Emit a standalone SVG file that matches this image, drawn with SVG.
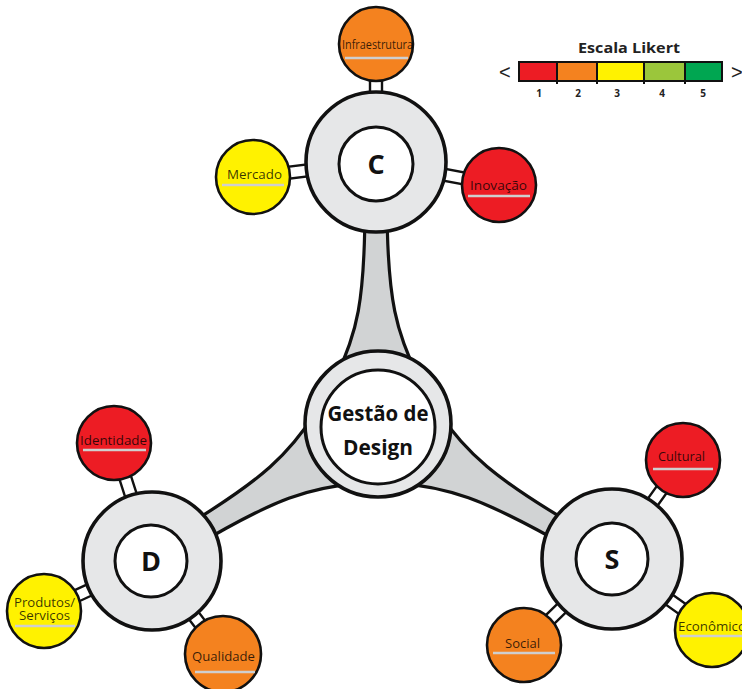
<svg xmlns="http://www.w3.org/2000/svg" width="742" height="689" viewBox="0 0 742 689">
  <style>
    .spoke { fill: #d1d3d4; stroke: #111; stroke-width: 3.2; stroke-linejoin: round; }
    .bar { fill: #fff; stroke: #111; stroke-width: 2.4; }
    .ring { fill: #e6e7e8; stroke: #111; stroke-width: 3.6; }
    .core { fill: #fff; stroke: #111; stroke-width: 3; }
    .sat { stroke: #111; stroke-width: 2.6; }
    .red { fill: #ed1c24; }
    .orange { fill: #f4821f; }
    .yellow { fill: #fff200; }
    .lgreen { fill: #9bc63b; }
    .green { fill: #00a651; }
    .hubtxt { font-family: "Open Sans", "Noto Sans", sans-serif; font-weight: bold; font-size: 27px; fill: #111; text-anchor: middle; }
    .maintxt { font-family: "Open Sans", "Noto Sans", sans-serif; font-weight: bold; font-size: 21px; fill: #111; text-anchor: middle; }
    .lbl { font-family: "Open Sans", "Noto Sans", sans-serif; font-size: 13px; fill: #000; fill-opacity: 0.78; }
    .uline { stroke: #cfcfcf; stroke-width: 2.6; }
    .scale { font-family: "Open Sans", "Noto Sans", sans-serif; font-weight: bold; fill: #222; text-anchor: middle; }
    .chev { font-family: "Liberation Sans", sans-serif; font-size: 20px; fill: #222; }
    .seg { stroke: #111; stroke-width: 2; }
  </style>

  <!-- connectors: tapered spokes from the core and short bars to the satellites -->
  <g id="connectors">
    <path class="spoke" transform="translate(377,424) rotate(0)"
          d="M -12,-222 L 10,-222 C 10,-122 20,-90 42,-45 L -42,-45 C -20,-90 -12,-122 -12,-222 Z"/>
    <path class="spoke" transform="translate(377,424) rotate(-121)"
          d="M -11,-224 L 11,-224 C 11,-124 20,-90 42,-45 L -42,-45 C -20,-90 -11,-124 -11,-224 Z"/>
    <path class="spoke" transform="translate(377,424) rotate(120)"
          d="M -11,-230 L 11,-230 C 11,-128 20,-90 42,-45 L -42,-45 C -20,-90 -11,-128 -11,-230 Z"/>

    <rect class="bar" transform="translate(376,162) rotate(0)" x="-6" y="-98" width="12" height="58"/>
    <rect class="bar" transform="translate(376,162) rotate(-97)" x="-6" y="-104" width="12" height="64"/>
    <rect class="bar" transform="translate(376,162) rotate(100.6)" x="-6" y="-105" width="12" height="65"/>

    <rect class="bar" transform="translate(152,561) rotate(-17.8)" x="-6" y="-104" width="12" height="64"/>
    <rect class="bar" transform="translate(152,561) rotate(-114.8)" x="-6" y="-99" width="12" height="59"/>
    <rect class="bar" transform="translate(152,561) rotate(142.6)" x="-6" y="-97" width="12" height="57"/>

    <rect class="bar" transform="translate(612,559) rotate(35.6)" x="-6" y="-102" width="12" height="62"/>
    <rect class="bar" transform="translate(612,559) rotate(125.4)" x="-6" y="-103" width="12" height="63"/>
    <rect class="bar" transform="translate(612,559) rotate(-134.3)" x="-6" y="-103" width="12" height="63"/>
  </g>

  <!-- central node -->
  <g id="gestao">
    <circle class="ring" cx="378" cy="424" r="73"/>
    <circle class="core" cx="378" cy="427" r="57" stroke-width="2"/>
    <text class="maintxt" x="378" y="421" textLength="101" lengthAdjust="spacingAndGlyphs">Gestão de</text>
    <text class="maintxt" x="378" y="455" textLength="70" lengthAdjust="spacingAndGlyphs">Design</text>
  </g>

  <!-- hubs -->
  <g id="hub-c">
    <circle class="ring" cx="376" cy="162" r="70"/>
    <circle class="core" cx="376" cy="164" r="37"/>
    <text class="hubtxt" x="376" y="174">C</text>
  </g>
  <g id="hub-d">
    <circle class="ring" cx="152" cy="561" r="69"/>
    <circle class="core" cx="151" cy="561" r="36"/>
    <text class="hubtxt" x="151" y="571">D</text>
  </g>
  <g id="hub-s">
    <circle class="ring" cx="612" cy="559" r="70"/>
    <circle class="core" cx="612" cy="559" r="36"/>
    <text class="hubtxt" x="612" y="569">S</text>
  </g>

  <!-- satellites of C -->
  <g id="infraestrutura">
    <circle class="sat orange" cx="376" cy="44" r="37"/>
    <text class="lbl" x="342" y="49" textLength="71" lengthAdjust="spacingAndGlyphs">Infraestrutura</text>
    <line class="uline" x1="345" y1="58" x2="408" y2="58"/>
  </g>
  <g id="mercado">
    <circle class="sat yellow" cx="253" cy="177" r="37"/>
    <text class="lbl" x="227" y="179" textLength="55" lengthAdjust="spacingAndGlyphs">Mercado</text>
    <line class="uline" x1="222" y1="185" x2="284" y2="185"/>
  </g>
  <g id="inovacao">
    <circle class="sat red" cx="499" cy="185" r="37"/>
    <text class="lbl" x="470" y="190" textLength="57" lengthAdjust="spacingAndGlyphs">Inovação</text>
    <line class="uline" x1="468" y1="196" x2="530" y2="196"/>
  </g>

  <!-- satellites of D -->
  <g id="identidade">
    <circle class="sat red" cx="114" cy="443" r="37"/>
    <text class="lbl" x="80" y="445" textLength="67" lengthAdjust="spacingAndGlyphs">Identidade</text>
    <line class="uline" x1="83" y1="450" x2="146" y2="450"/>
  </g>
  <g id="produtos-servicos">
    <circle class="sat yellow" cx="44" cy="611" r="37"/>
    <text class="lbl" x="14" y="607" font-size="12" textLength="61" lengthAdjust="spacingAndGlyphs">Produtos/</text>
    <text class="lbl" x="19" y="620" font-size="12" textLength="51" lengthAdjust="spacingAndGlyphs">Serviços</text>
    <line class="uline" x1="15" y1="626" x2="75" y2="626"/>
  </g>
  <g id="qualidade">
    <circle class="sat orange" cx="223" cy="654" r="38"/>
    <text class="lbl" x="192" y="661" textLength="63" lengthAdjust="spacingAndGlyphs">Qualidade</text>
    <line class="uline" x1="195" y1="672" x2="255" y2="672"/>
  </g>

  <!-- satellites of S -->
  <g id="cultural">
    <circle class="sat red" cx="683" cy="460" r="37"/>
    <text class="lbl" x="658" y="461" textLength="47" lengthAdjust="spacingAndGlyphs">Cultural</text>
    <line class="uline" x1="653" y1="469" x2="713" y2="469"/>
  </g>
  <g id="economico">
    <circle class="sat yellow" cx="712" cy="630" r="37"/>
    <text class="lbl" x="678" y="631" textLength="68" lengthAdjust="spacingAndGlyphs">Econômico</text>
    <line class="uline" x1="680" y1="636" x2="742" y2="636"/>
  </g>
  <g id="social">
    <circle class="sat orange" cx="524" cy="645" r="37"/>
    <text class="lbl" x="505" y="648" textLength="35" lengthAdjust="spacingAndGlyphs">Social</text>
    <line class="uline" x1="493" y1="653" x2="555" y2="653"/>
  </g>

  <!-- Likert scale legend -->
  <g id="likert">
    <text class="scale" x="629" y="53" font-size="14" textLength="102" lengthAdjust="spacingAndGlyphs">Escala Likert</text>
    <text class="chev" x="499" y="79">&lt;</text>
    <text class="chev" x="731" y="79">&gt;</text>
    <rect class="red" x="519" y="62" width="38" height="19"/>
    <rect class="orange" x="557" y="62" width="40" height="19"/>
    <rect class="yellow" x="597" y="62" width="47" height="19"/>
    <rect class="lgreen" x="644" y="62" width="41" height="19"/>
    <rect class="green" x="685" y="62" width="37" height="19"/>
    <rect x="519" y="62" width="203" height="19" fill="none" stroke="#111" stroke-width="2"/>
    <line class="seg" x1="557" y1="62" x2="557" y2="84"/>
    <line class="seg" x1="597" y1="62" x2="597" y2="84"/>
    <line class="seg" x1="644" y1="62" x2="644" y2="84"/>
    <line class="seg" x1="685" y1="62" x2="685" y2="84"/>
    <text class="scale" x="539" y="97" font-size="10">1</text>
    <text class="scale" x="578" y="97" font-size="10">2</text>
    <text class="scale" x="617" y="97" font-size="10">3</text>
    <text class="scale" x="662" y="97" font-size="10">4</text>
    <text class="scale" x="703" y="97" font-size="10">5</text>
  </g>
</svg>
